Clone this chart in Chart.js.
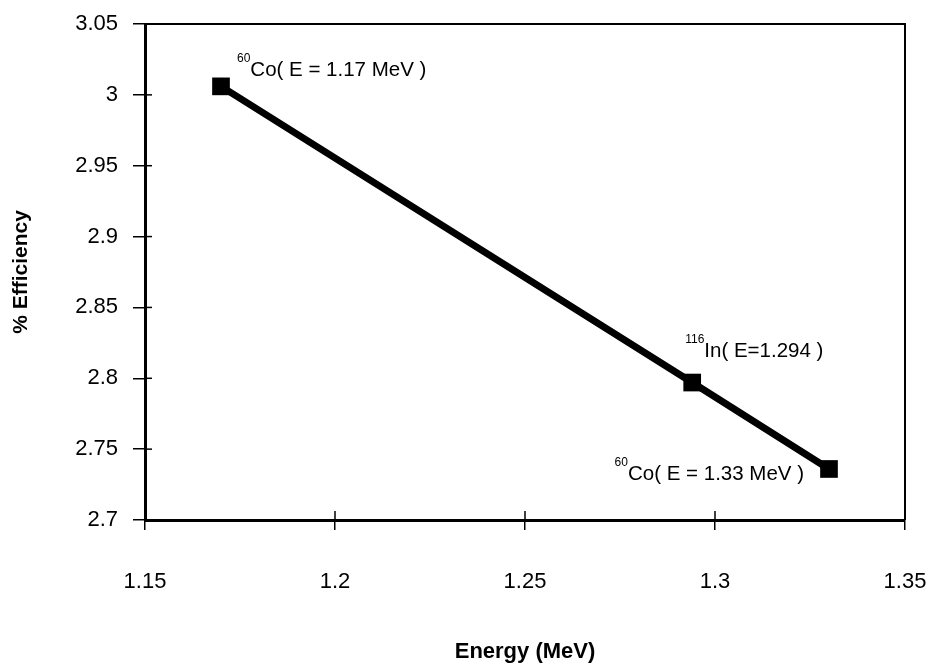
<!DOCTYPE html>
<html>
<head>
<meta charset="utf-8">
<script src="https://cdn.jsdelivr.net/npm/chart.js@4.4.1/dist/chart.umd.min.js"></script>
<style>
  html, body { margin: 0; padding: 0; background: #fff; }
  #wrap { width: 928px; height: 670px; }
</style>
</head>
<body>
<div id="wrap"><canvas id="chart" width="928" height="670"></canvas></div>
<script>
// Data
const energies = [1.17, 1.294, 1.33];
const efficiency = [3.006, 2.797, 2.736];
const labelSup = ['60', '116', '60'];
const labelMain = ['Co( E = 1.17 MeV )', 'In( E=1.294 )', 'Co( E = 1.33 MeV )'];
const xRange = [1.15, 1.35];
const yRange = [2.7, 3.05];

// where each label sits relative to its point: [dx, dy, align]
const labelOffsets = [[16, -10, 'left'], [-7, -26, 'left'], [-25, 11, 'right']];

const FONT = '"Liberation Sans", Arial, sans-serif';

// frame on top/right plus ticks that cross into the plot
const framePlugin = {
  id: 'frame',
  afterDraw(chart) {
    const { ctx, chartArea: a, scales } = chart;
    ctx.save();
    ctx.strokeStyle = '#000';
    ctx.lineWidth = 2;
    ctx.beginPath();
    ctx.moveTo(a.left, a.top);
    ctx.lineTo(a.right, a.top);
    ctx.lineTo(a.right, a.bottom);
    ctx.stroke();
    ctx.lineWidth = 1.5;
    scales.x.ticks.forEach((t) => {
      const px = scales.x.getPixelForValue(t.value);
      ctx.beginPath();
      ctx.moveTo(px, a.bottom);
      ctx.lineTo(px, a.bottom - 9);
      ctx.stroke();
    });
    scales.y.ticks.forEach((t) => {
      const py = scales.y.getPixelForValue(t.value);
      ctx.beginPath();
      ctx.moveTo(a.left, py);
      ctx.lineTo(a.left + 7, py);
      ctx.stroke();
    });
    ctx.restore();
  }
};

// point labels with superscript mass number
const labelPlugin = {
  id: 'pointLabels',
  afterDatasetsDraw(chart) {
    const { ctx } = chart;
    const meta = chart.getDatasetMeta(0);
    ctx.save();
    ctx.fillStyle = '#000';
    ctx.textBaseline = 'alphabetic';
    meta.data.forEach((pt, i) => {
      const [dx, dy, align] = labelOffsets[i];
      ctx.font = `12px ${FONT}`;
      const supW = ctx.measureText(labelSup[i]).width;
      ctx.font = `20.5px ${FONT}`;
      const mainW = ctx.measureText(labelMain[i]).width;
      let x = pt.x + dx;
      if (align === 'right') x -= supW + mainW;
      const y = pt.y + dy;
      ctx.textAlign = 'left';
      ctx.font = `12px ${FONT}`;
      ctx.fillText(labelSup[i], x, y - 14);
      ctx.font = `20.5px ${FONT}`;
      ctx.fillText(labelMain[i], x + supW, y);
    });
    ctx.restore();
  }
};

const fmt = (v) => String(+Number(v).toFixed(2));

new Chart(document.getElementById('chart'), {
  type: 'scatter',
  data: {
    datasets: [{
      data: energies.map((e, i) => ({ x: e, y: efficiency[i] })),
      showLine: true,
      borderColor: '#000',
      backgroundColor: '#000',
      borderWidth: 7,
      pointStyle: 'rect',
      pointRadius: 12.5,
      pointHoverRadius: 12.5,
      pointBorderWidth: 0
    }]
  },
  options: {
    responsive: false,
    animation: false,
    layout: { padding: { top: 24, right: 23, bottom: 0, left: 0 } },
    plugins: { legend: { display: false }, tooltip: { enabled: false } },
    scales: {
      x: {
        type: 'linear',
        min: xRange[0],
        max: xRange[1],
        afterFit: (s) => { s.height = 150; s.paddingLeft = 0; s.paddingRight = 0; },
        ticks: {
          stepSize: 0.05,
          color: '#000',
          padding: 39,
          maxRotation: 0,
          font: { family: FONT, size: 22 },
          callback: fmt
        },
        grid: { drawOnChartArea: false, color: '#000', tickLength: 10, lineWidth: 1.5 },
        border: { color: '#000', width: 3 },
        title: {
          display: true,
          text: 'Energy (MeV)',
          color: '#000',
          font: { family: FONT, size: 22, weight: 'bold' },
          padding: { top: 0, bottom: 5 }
        }
      },
      y: {
        min: yRange[0],
        max: yRange[1],
        afterFit: (s) => { s.width = 145; s.paddingTop = 0; s.paddingBottom = 0; },
        ticks: {
          stepSize: 0.05,
          color: '#000',
          padding: 15,
          font: { family: FONT, size: 22 },
          callback: fmt
        },
        grid: { drawOnChartArea: false, color: '#000', tickLength: 12, lineWidth: 1.5 },
        border: { color: '#000', width: 3 },
        title: {
          display: true,
          text: '% Efficiency',
          color: '#000',
          font: { family: FONT, size: 21, weight: 'bold' },
          padding: { top: 9, bottom: 0 }
        }
      }
    }
  },
  plugins: [framePlugin, labelPlugin]
});
</script>
</body>
</html>
